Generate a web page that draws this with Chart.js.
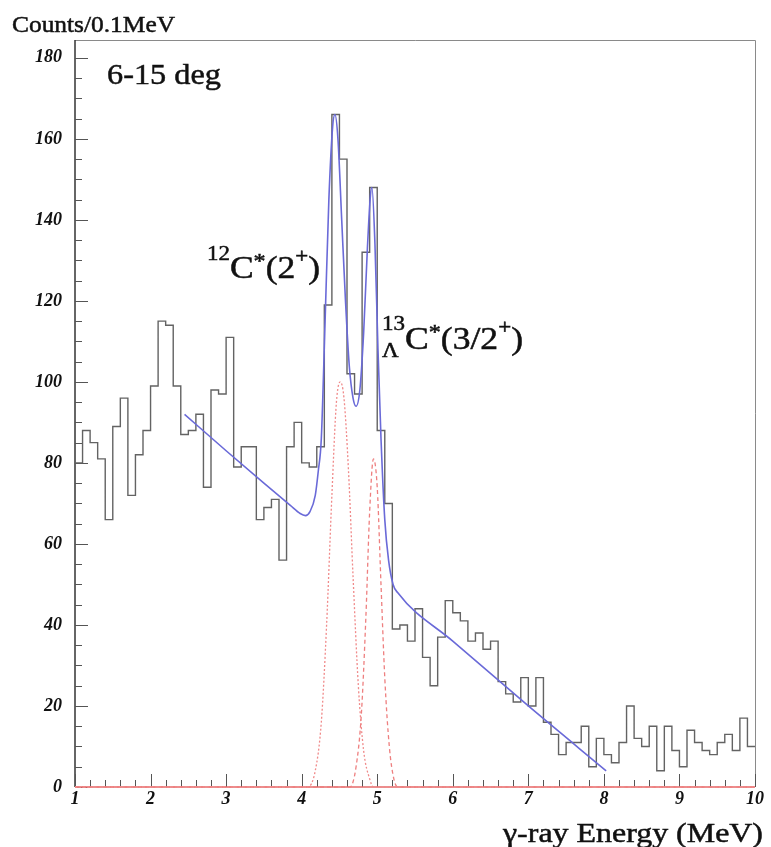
<!DOCTYPE html>
<html>
<head>
<meta charset="utf-8">
<script src="https://cdn.jsdelivr.net/npm/chart.js@4.4.1/dist/chart.umd.min.js"></script>
<style>
html,body{margin:0;padding:0;background:#fff;}
#wrap{width:771px;height:847px;position:relative;}
</style>
</head>
<body>
<div id="wrap"><canvas id="c"></canvas></div>
<script>
// ── data ──
// histogram, counts per 0.1 MeV bin from 1.0 to 10.0 MeV
const binStart=1.0, binWidth=0.1;
const counts=[80,88,85,81,66,89,96,72,82,88,
  99,115,114,99,87,88,92,74,98,97,
  111,79,84,84,66,69,71,56,84,90,
  80,79,84,119,166,155,102,97,132,148,
  88,70,39,40,36,44,32,25,37,46,
  43,41,36,38,34,36,26,23,21,27,
  20,27,16,13,8,11,11,15,5,12,
  8,6,11,20,12,10,15,4,15,9,
  5,14,11,9,8,11,13,9,17,10];

// fitted curve (blue)
const fitE=[2.45,3.0,3.5,3.85,3.98,4.05,4.11,4.18,4.22,4.26,4.31,4.36,4.41,4.44,4.48,4.53,4.58,4.63,4.68,4.72,4.77,4.82,4.87,4.91,4.93,4.97,5.01,5.05,5.10,5.15,5.21,5.27,6.0,7.0,8.03];
const fitY=[92,83,75,69.5,67.5,67,68,72,78,86,115,145,163,166,160,140,120,104,96,94,98,112,133,146,148,134,108,86,66,56,50,48,36,20,4];

// 12C*(2+) peak component (red dotted)
const c12E=[1,4.08,4.18,4.26,4.33,4.40,4.46,4.51,4.56,4.62,4.68,4.75,4.82,4.90,4.95,10];
const c12Y=[0,0,4,16,40,72,95,100,96,78,52,25,9,2,0,0];

// 13LC*(3/2+) peak component (red dashed)
const c13E=[1,4.64,4.72,4.79,4.85,4.90,4.95,5.00,5.05,5.10,5.16,5.22,5.27,10];
const c13Y=[0,0,5,18,42,68,81,74,50,27,10,2,0,0];

// axes
const xTickVals=[1,2,3,4,5,6,7,8,9,10];
const yTickVals=[0,20,40,60,80,100,120,140,160,180];
const xMin=1,xMax=10,yMin=0,yMax=184.4;
const xMinorStep=0.2,yMinorStep=5;

const serif='"Liberation Serif","Times New Roman",serif';
const pts=(xs,ys)=>xs.map((v,i)=>({x:v,y:ys[i]}));
const histPts=counts.map((c,i)=>({x:binStart+i*binWidth,y:c}));
histPts.push({x:xMax,y:counts[counts.length-1]});

// draw text stretched to a measured span
function fitText(ctx,txt,x0,x1,base,size){
  ctx.font=size+'px '+serif;
  const w=ctx.measureText(txt).width;
  ctx.save();ctx.translate(x0,base);ctx.scale((x1-x0)/w,1);
  ctx.fillText(txt,0,0);ctx.strokeText(txt,0,0);ctx.restore();
}
// text with super/subscripts, stretched to a span
function richText(ctx,parts,x0,x1,base){
  let cx=0,last=0;const pos=[];
  parts.forEach(p=>{
    ctx.font=p.s+'px '+serif;
    const w=ctx.measureText(p.t).width;
    if(p.under){pos.push(last);cx=Math.max(cx,last+w);}
    else{pos.push(cx);last=cx;cx+=w;}
  });
  ctx.save();ctx.translate(x0,base);ctx.scale((x1-x0)/cx,1);
  parts.forEach((p,i)=>{ctx.font=p.s+'px '+serif;ctx.fillText(p.t,pos[i],p.dy||0);ctx.strokeText(p.t,pos[i],p.dy||0);});
  ctx.restore();
}

const frame={
  id:'frame',
  beforeDatasetsDraw(chart){
    const {ctx,chartArea:a,scales:{x,y}}=chart;
    ctx.save();
    ctx.strokeStyle='#8a8a8a';ctx.lineWidth=1;
    ctx.beginPath();ctx.moveTo(a.left,a.top+0.5);ctx.lineTo(a.right+0.5,a.top+0.5);ctx.lineTo(a.right+0.5,a.bottom);ctx.stroke();
    ctx.strokeStyle='#333';ctx.lineWidth=1.5;
    ctx.beginPath();ctx.moveTo(a.left,a.top);ctx.lineTo(a.left,a.bottom);ctx.stroke();
    ctx.strokeStyle='#555';ctx.lineWidth=1;
    ctx.beginPath();
    for(let k=0;xMin+k*xMinorStep<=xMax+1e-9;k++){
      const v=xMin+k*xMinorStep,px=Math.round(x.getPixelForValue(v))+0.5;
      const major=Math.abs(v-Math.round(v))<1e-6;
      ctx.moveTo(px,a.bottom);ctx.lineTo(px,a.bottom-(major?13:7));
    }
    for(let v=yMin;v<=180;v+=yMinorStep){
      const py=Math.round(y.getPixelForValue(v))+0.5;
      const major=v%20===0;
      ctx.moveTo(a.left,py);ctx.lineTo(a.left+(major?13:7),py);
    }
    ctx.stroke();
    // bottom axis, covered by the red zero line of the peak components
    ctx.strokeStyle='#e46a6a';ctx.lineWidth=1.6;
    ctx.beginPath();ctx.moveTo(a.left,a.bottom);ctx.lineTo(a.right,a.bottom);ctx.stroke();
    ctx.restore();
  },
  afterDraw(chart){
    const ctx=chart.ctx;
    ctx.save();
    ctx.fillStyle='#111';ctx.strokeStyle='#111';ctx.lineWidth=0.5;
    ctx.textBaseline='alphabetic';ctx.textAlign='left';
    fitText(ctx,'Counts/0.1MeV',12,175,32,24);
    fitText(ctx,'6-15 deg',107,221,84,30);
    fitText(ctx,'\u03b3-ray Energy (MeV)',503,763,842,28);
    richText(ctx,[{t:'12',s:20,dy:-18},{t:'C',s:31},{t:'*',s:21,dy:-10},{t:'(2',s:31},{t:'+',s:20,dy:-15},{t:')',s:31}],207,320,278);
    richText(ctx,[{t:'13',s:20,dy:-19},{t:'\u039b',s:20,dy:8,under:true},{t:'C',s:31},{t:'*',s:21,dy:-10},{t:'(3/2',s:31},{t:'+',s:20,dy:-15},{t:')',s:31}],382,523,349);
    ctx.restore();
  }
};

new Chart(document.getElementById('c'),{
  type:'scatter',
  data:{datasets:[
    {label:'fit',data:pts(fitE,fitY),showLine:true,borderColor:'#6a6ad8',borderWidth:1.6,pointRadius:0,cubicInterpolationMode:'monotone'},
    {label:'12C',data:pts(c12E,c12Y),showLine:true,borderColor:'#f08a8a',borderWidth:1.3,borderDash:[2,2],pointRadius:0,cubicInterpolationMode:'monotone',clip:3},
    {label:'13LC',data:pts(c13E,c13Y),showLine:true,borderColor:'#ee7f7f',borderWidth:1.3,borderDash:[4,3],pointRadius:0,cubicInterpolationMode:'monotone',clip:3},
    {label:'data',data:histPts,showLine:true,stepped:true,borderColor:'#636363',borderWidth:1.4,pointRadius:0}
  ]},
  options:{
    responsive:true,maintainAspectRatio:false,animation:false,
    layout:{padding:{top:40,right:16,left:0,bottom:0}},
    plugins:{legend:{display:false},tooltip:{enabled:false}},
    scales:{
      x:{type:'linear',min:xMin,max:xMax,
        afterBuildTicks:s=>{s.ticks=xTickVals.map(v=>({value:v}));},
        afterFit:s=>{s.height=60;},
        grid:{display:false,drawTicks:false},border:{display:false},
        ticks:{padding:2,color:'#111',maxRotation:0,autoSkip:false,font:{family:serif,size:18,style:'italic',weight:'bold'}}},
      y:{type:'linear',min:yMin,max:yMax,
        afterBuildTicks:s=>{s.ticks=yTickVals.map(v=>({value:v}));},
        afterFit:s=>{s.width=75;},
        grid:{display:false,drawTicks:false},border:{display:false},
        ticks:{padding:13,color:'#111',autoSkip:false,font:{family:serif,size:18,style:'italic',weight:'bold'}}}
    }
  },
  plugins:[frame]
});
</script>
</body>
</html>
